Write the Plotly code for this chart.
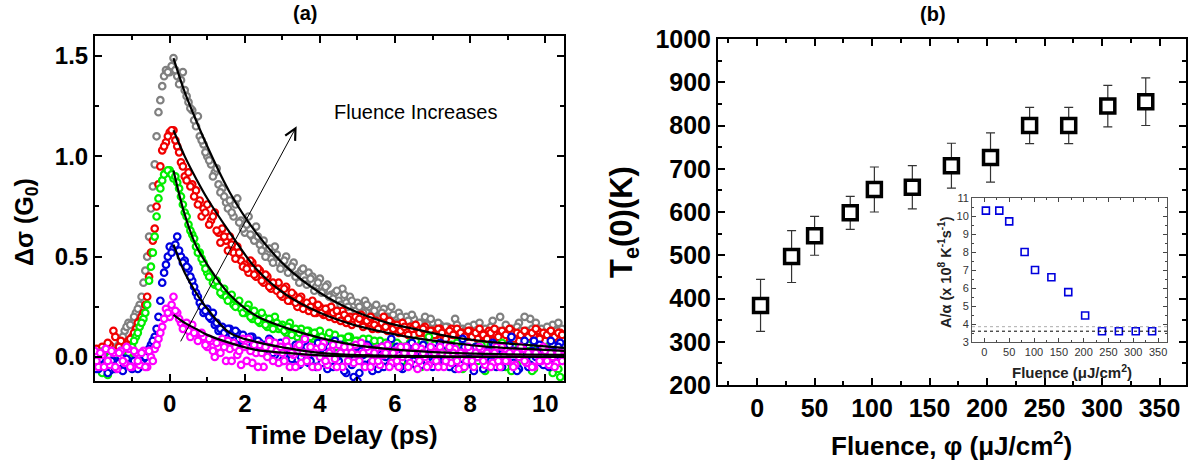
import plotly.graph_objects as go

# ---------------- DATA ----------------
# Panel (a): time delay (ps) grids and measured Δσ (G0) for five fluences
times = [
    -2.0, -1.9, -1.8, -1.7, -1.6, -1.5, -1.4, -1.3, -1.2, -1.1,
    -1.0, -0.9, -0.8, -0.7, -0.6, -0.5, -0.4, -0.3, -0.2, -0.1,
    0.0, 0.1, 0.2, 0.3, 0.4, 0.5, 0.6, 0.7, 0.8, 0.9,
    1.0, 1.1, 1.2, 1.3, 1.4, 1.5, 1.6, 1.7, 1.8, 1.9,
    2.0, 2.1, 2.2, 2.3, 2.4, 2.5, 2.6, 2.7, 2.8, 2.9,
    3.0, 3.1, 3.2, 3.3, 3.4, 3.5, 3.6, 3.7, 3.8, 3.9,
    4.0, 4.1, 4.2, 4.3, 4.4, 4.5, 4.6, 4.7, 4.8, 4.9,
    5.0, 5.1, 5.2, 5.3, 5.4, 5.5, 5.6, 5.7, 5.8, 5.9,
    6.0, 6.1, 6.2, 6.3, 6.4, 6.5, 6.6, 6.7, 6.8, 6.9,
    7.0, 7.1, 7.2, 7.3, 7.4, 7.5, 7.6, 7.7, 7.8, 7.9,
    8.0, 8.1, 8.2, 8.3, 8.4, 8.5, 8.6, 8.7, 8.8, 8.9,
    9.0, 9.1, 9.2, 9.3, 9.4, 9.5, 9.6, 9.7, 9.8, 9.9,
    10.0, 10.1, 10.2, 10.3, 10.4,
]
times_b = [
    -1.95, -1.85, -1.75, -1.65, -1.55, -1.45, -1.35, -1.25, -1.15, -1.05,
    -0.95, -0.85, -0.75, -0.65, -0.55, -0.45, -0.35, -0.25, -0.15, -0.05,
    0.05, 0.15, 0.25, 0.35, 0.45, 0.55, 0.65, 0.75, 0.85, 0.95,
    1.05, 1.15, 1.25, 1.35, 1.45, 1.55, 1.65, 1.75, 1.85, 1.95,
    2.05, 2.15, 2.25, 2.35, 2.45, 2.55, 2.65, 2.75, 2.85, 2.95,
    3.05, 3.15, 3.25, 3.35, 3.45, 3.55, 3.65, 3.75, 3.85, 3.95,
    4.05, 4.15, 4.25, 4.35, 4.45, 4.55, 4.65, 4.75, 4.85, 4.95,
    5.05, 5.15, 5.25, 5.35, 5.45, 5.55, 5.65, 5.75, 5.85, 5.95,
    6.05, 6.15, 6.25, 6.35, 6.45, 6.55, 6.65, 6.75, 6.85, 6.95,
    7.05, 7.15, 7.25, 7.35, 7.45, 7.55, 7.65, 7.75, 7.85, 7.95,
    8.05, 8.15, 8.25, 8.35, 8.45, 8.55, 8.65, 8.75, 8.85, 8.95,
    9.05, 9.15, 9.25, 9.35, 9.45, 9.55, 9.65, 9.75, 9.85, 9.95,
    10.05, 10.15, 10.25, 10.35, 10.45,
]

sig_gray = [
    0.03, 0.00, 0.04, 0.02, -0.02, 0.03, 0.05, 0.08, 0.13, 0.17,
    0.17, 0.22, 0.26, 0.37, 0.50, 0.74, 0.96, 1.22, 1.35, 1.43,
    1.42, 1.49, 1.40, 1.38, 1.33, 1.27, 1.23, 1.15, 1.10, 1.06,
    1.00, 0.96, 0.92, 0.86, 0.84, 0.77, 0.78, 0.70, 0.79, 0.68,
    0.62, 0.70, 0.60, 0.65, 0.56, 0.58, 0.52, 0.49, 0.55, 0.47,
    0.46, 0.50, 0.44, 0.47, 0.41, 0.43, 0.38, 0.42, 0.40, 0.35,
    0.39, 0.33, 0.36, 0.31, 0.32, 0.28, 0.34, 0.27, 0.30, 0.26,
    0.27, 0.24, 0.28, 0.25, 0.22, 0.26, 0.21, 0.24, 0.20, 0.25,
    0.19, 0.22, 0.18, 0.20, 0.16, 0.19, 0.15, 0.17, 0.20, 0.14,
    0.17, 0.13, 0.16, 0.12, 0.15, 0.13, 0.19, 0.12, 0.14, 0.11,
    0.13, 0.16, 0.12, 0.10, 0.14, 0.12, 0.18, 0.11, 0.20, 0.13,
    0.10, 0.14, 0.12, 0.17, 0.11, 0.13, 0.19, 0.12, 0.10, 0.14,
    0.12, 0.11, 0.16, 0.13, 0.12,
]
sig_gray_b = [
    0.01, 0.04, -0.01, 0.03, 0.05, 0.01, 0.06, 0.10, 0.15, 0.16,
    0.20, 0.24, 0.30, 0.43, 0.60, 0.85, 1.10, 1.28, 1.40, 1.42,
    1.45, 1.43, 1.36, 1.42, 1.30, 1.24, 1.18, 1.20, 1.08, 1.02,
    0.98, 0.90, 0.94, 0.82, 0.80, 0.74, 0.72, 0.76, 0.67, 0.64,
    0.66, 0.61, 0.58, 0.60, 0.53, 0.50, 0.54, 0.47, 0.51, 0.44,
    0.48, 0.42, 0.45, 0.40, 0.37, 0.44, 0.36, 0.39, 0.33, 0.37,
    0.32, 0.35, 0.30, 0.29, 0.33, 0.26, 0.31, 0.25, 0.28, 0.23,
    0.25, 0.22, 0.26, 0.20, 0.23, 0.19, 0.22, 0.20, 0.17, 0.21,
    0.17, 0.20, 0.15, 0.18, 0.21, 0.14, 0.17, 0.13, 0.16, 0.19,
    0.14, 0.17, 0.12, 0.15, 0.11, 0.13, 0.16, 0.10, 0.13, 0.15,
    0.11, 0.13, 0.17, 0.10, 0.12, 0.15, 0.10, 0.13, 0.11, 0.16,
    0.12, 0.10, 0.15, 0.13, 0.20, 0.11, 0.14, 0.17, 0.12, 0.10,
    0.15, 0.13, 0.10, 0.17, 0.14,
]

sig_red = [
    0.02, -0.03, 0.05, 0.00, 0.06, 0.13, 0.03, 0.08, 0.04, 0.08,
    0.10, 0.14, 0.18, 0.22, 0.30, 0.52, 0.64, 0.86, 1.03, 1.07,
    1.12, 1.13, 1.05, 0.97, 0.90, 0.92, 0.86, 0.83, 0.78, 0.74,
    0.76, 0.68, 0.72, 0.62, 0.64, 0.58, 0.60, 0.52, 0.55, 0.48,
    0.46, 0.42, 0.47, 0.40, 0.43, 0.37, 0.40, 0.34, 0.36, 0.37,
    0.30, 0.35, 0.28, 0.31, 0.25, 0.30, 0.26, 0.23, 0.28, 0.22,
    0.25, 0.21, 0.24, 0.25, 0.19, 0.20, 0.23, 0.17, 0.20, 0.18,
    0.17, 0.21, 0.16, 0.17, 0.14, 0.18, 0.15, 0.20, 0.13, 0.17,
    0.14, 0.12, 0.17, 0.13, 0.15, 0.11, 0.14, 0.12, 0.15, 0.10,
    0.13, 0.11, 0.14, 0.10, 0.12, 0.14, 0.11, 0.09, 0.12, 0.10,
    0.13, 0.11, 0.09, 0.12, 0.10, 0.13, 0.08, 0.11, 0.12, 0.09,
    0.11, 0.13, 0.10, 0.08, 0.11, 0.12, 0.09, 0.11, 0.13, 0.10,
    0.08, 0.12, 0.11, 0.09, 0.12,
]
sig_red_b = [
    0.04, 0.01, -0.02, 0.07, 0.03, 0.10, 0.05, 0.02, 0.06, 0.09,
    0.12, 0.17, 0.20, 0.26, 0.40, 0.58, 0.75, 0.95, 1.05, 1.10,
    1.13, 1.08, 1.02, 0.95, 0.88, 0.85, 0.80, 0.76, 0.70, 0.72,
    0.66, 0.70, 0.63, 0.57, 0.60, 0.53, 0.56, 0.49, 0.52, 0.45,
    0.44, 0.48, 0.41, 0.44, 0.38, 0.41, 0.35, 0.37, 0.33, 0.31,
    0.34, 0.28, 0.32, 0.27, 0.29, 0.24, 0.27, 0.25, 0.22, 0.26,
    0.22, 0.24, 0.20, 0.22, 0.23, 0.18, 0.21, 0.19, 0.16, 0.20,
    0.19, 0.15, 0.18, 0.20, 0.16, 0.14, 0.17, 0.15, 0.18, 0.14,
    0.16, 0.13, 0.15, 0.11, 0.14, 0.16, 0.12, 0.14, 0.11, 0.13,
    0.11, 0.14, 0.12, 0.09, 0.13, 0.11, 0.14, 0.12, 0.10, 0.13,
    0.10, 0.12, 0.14, 0.11, 0.09, 0.12, 0.14, 0.10, 0.13, 0.11,
    0.14, 0.09, 0.12, 0.11, 0.13, 0.10, 0.12, 0.14, 0.09, 0.12,
    0.11, 0.13, 0.10, 0.12, 0.11,
]

sig_green = [
    -0.05, 0.02, -0.08, -0.03, 0.00, -0.06, -0.02, 0.03, -0.04, 0.02,
    0.05, 0.10, 0.15, 0.19, 0.26, 0.45, 0.60, 0.79, 0.88, 0.92,
    0.93, 0.89, 0.87, 0.80, 0.72, 0.66, 0.61, 0.55, 0.52, 0.47,
    0.42, 0.40, 0.36, 0.35, 0.31, 0.30, 0.29, 0.26, 0.27, 0.24,
    0.22, 0.26, 0.19, 0.21, 0.17, 0.20, 0.15, 0.18, 0.20, 0.14,
    0.16, 0.12, 0.17, 0.13, 0.10, 0.14, 0.11, 0.13, 0.09, 0.12,
    0.13, 0.08, 0.10, 0.07, 0.11, 0.07, 0.09, 0.05, 0.10, 0.06,
    0.08, 0.04, 0.07, 0.09, 0.03, 0.06, 0.08, 0.02, 0.07, 0.05,
    0.03, 0.06, -0.02, 0.05, 0.07, 0.02, 0.04, -0.05, 0.06, 0.10,
    0.03, 0.01, 0.05, -0.03, 0.04, 0.06, 0.00, 0.03, -0.06, 0.05,
    0.02, 0.04, -0.02, 0.06, -0.07, 0.03, 0.01, 0.05, -0.04, 0.02,
    0.04, -0.07, 0.03, 0.00, 0.05, -0.02, 0.02, -0.06, 0.04, 0.01,
    -0.03, 0.03, -0.08, 0.02, -0.10,
]
sig_green_b = [
    0.00, -0.05, 0.03, -0.09, -0.02, 0.01, -0.05, 0.00, 0.04, -0.01,
    0.08, 0.12, 0.17, 0.22, 0.38, 0.52, 0.70, 0.84, 0.91, 0.93,
    0.91, 0.90, 0.84, 0.76, 0.70, 0.63, 0.59, 0.52, 0.49, 0.44,
    0.40, 0.37, 0.38, 0.32, 0.34, 0.28, 0.31, 0.25, 0.28, 0.22,
    0.24, 0.20, 0.23, 0.18, 0.22, 0.16, 0.19, 0.14, 0.17, 0.15,
    0.13, 0.15, 0.11, 0.14, 0.12, 0.09, 0.13, 0.10, 0.12, 0.08,
    0.10, 0.06, 0.12, 0.08, 0.05, 0.09, 0.06, 0.10, 0.04, 0.08,
    0.05, 0.09, 0.03, 0.06, 0.08, 0.02, 0.05, 0.07, 0.01, 0.04,
    0.07, 0.02, 0.05, -0.03, 0.04, 0.08, 0.01, 0.05, -0.02, 0.03,
    0.06, -0.04, 0.02, 0.05, -0.01, 0.03, 0.07, -0.05, 0.02, 0.04,
    -0.02, 0.05, 0.01, -0.06, 0.03, 0.06, -0.03, 0.02, 0.07, -0.05,
    0.02, 0.05, -0.04, 0.03, 0.00, 0.06, -0.07, 0.02, 0.04, -0.03,
    0.05, -0.02, 0.02, -0.06, 0.03,
]

sig_blue = [
    -0.03, -0.06, 0.01, -0.04, -0.07, -0.02, -0.05, 0.00, -0.04, -0.02,
    -0.06, -0.03, -0.05, -0.01, 0.02, 0.06, 0.10, 0.20, 0.37, 0.46,
    0.55, 0.54, 0.60, 0.50, 0.48, 0.44, 0.38, 0.32, 0.27, 0.22,
    0.24, 0.19, 0.16, 0.13, 0.15, 0.11, 0.14, 0.10, 0.12, 0.08,
    0.09, 0.06, 0.10, 0.04, 0.07, 0.02, 0.05, 0.08, 0.01, 0.04,
    -0.02, 0.06, 0.02, -0.04, 0.05, 0.00, 0.07, -0.03, 0.02, -0.05,
    0.04, 0.01, -0.06, 0.03, 0.08, -0.02, 0.02, -0.08, 0.01, -0.10,
    -0.12, 0.03, -0.04, 0.05, -0.07, 0.00, 0.04, -0.05, 0.02, 0.09,
    -0.03, 0.01, -0.06, 0.03, 0.06, -0.02, 0.02, -0.04, 0.04, 0.00,
    -0.05, 0.03, 0.07, -0.02, 0.01, 0.05, -0.06, 0.02, 0.09, -0.03,
    0.03, -0.07, 0.00, 0.04, -0.04, 0.02, 0.07, -0.05, 0.01, 0.04,
    -0.02, 0.10, 0.03, -0.06, 0.05, 0.00, -0.04, 0.08, 0.02, -0.03,
    0.04, -0.05, 0.06, 0.01, 0.07,
]
sig_blue_b = [
    -0.06, -0.01, -0.05, -0.08, -0.02, -0.06, -0.03, -0.07, -0.01, -0.05,
    -0.02, -0.06, -0.03, 0.00, 0.04, 0.08, 0.14, 0.28, 0.42, 0.50,
    0.52, 0.56, 0.53, 0.47, 0.45, 0.40, 0.35, 0.30, 0.25, 0.23,
    0.20, 0.22, 0.17, 0.14, 0.12, 0.14, 0.11, 0.13, 0.09, 0.11,
    0.07, 0.10, 0.05, 0.08, 0.03, 0.06, 0.09, 0.02, 0.05, 0.07,
    0.01, 0.04, -0.01, 0.06, -0.04, 0.03, 0.05, -0.02, 0.04, 0.07,
    -0.03, 0.02, 0.05, -0.05, 0.00, 0.06, -0.07, 0.03, -0.04, 0.02,
    -0.08, 0.01, 0.06, -0.03, 0.02, -0.06, 0.05, 0.00, -0.04, 0.03,
    0.05, -0.05, 0.02, -0.01, 0.07, -0.04, 0.03, 0.06, -0.02, 0.02,
    0.04, -0.03, 0.01, 0.06, -0.05, 0.03, 0.00, -0.04, 0.05, 0.02,
    -0.04, 0.05, 0.02, -0.06, 0.03, -0.02, 0.06, 0.01, -0.05, 0.03,
    0.06, -0.03, -0.07, 0.02, 0.08, -0.05, 0.03, 0.00, 0.06, -0.04,
    0.02, 0.08, -0.03, 0.05, 0.03,
]

sig_magenta = [
    0.03, -0.05, 0.01, 0.04, -0.04, 0.02, -0.06, 0.03, -0.03, 0.04,
    -0.05, 0.02, -0.04, 0.03, -0.05, 0.00, 0.04, 0.09, 0.15, 0.24,
    0.20, 0.30, 0.22, 0.17, 0.15, 0.13, 0.16, 0.12, 0.09, 0.10,
    0.05, 0.08, 0.00, 0.05, 0.09, -0.02, 0.04, 0.07, 0.01, -0.04,
    0.05, 0.09, -0.03, 0.02, 0.06, -0.05, 0.00, 0.04, 0.07, -0.03,
    0.02, 0.08, -0.05, 0.01, 0.05, -0.03, 0.09, 0.02, -0.05, 0.04,
    0.00, 0.07, -0.04, 0.03, -0.01, 0.06, -0.05, 0.02, 0.05, -0.03,
    0.01, 0.07, -0.05, 0.03, -0.02, 0.04, -0.04, 0.01, 0.06, -0.03,
    0.03, -0.05, 0.00, 0.05, -0.03, 0.02, -0.06, 0.04, 0.00, -0.04,
    0.03, -0.02, 0.05, -0.05, 0.01, -0.03, 0.04, -0.06, 0.02, -0.02,
    0.03, -0.05, 0.00, 0.04, -0.04, 0.02, -0.03, 0.05, -0.05, 0.01,
    -0.02, 0.03, -0.04, 0.00, 0.04, -0.03, 0.02, -0.05, 0.01, -0.02,
    0.03, -0.04, 0.00, -0.03, 0.02,
]
sig_magenta_b = [
    -0.02, 0.02, -0.05, -0.02, 0.03, -0.05, 0.02, -0.02, 0.05, -0.05,
    0.03, -0.02, 0.02, -0.05, 0.03, -0.02, 0.06, 0.12, 0.19, 0.22,
    0.26, 0.23, 0.19, 0.14, 0.17, 0.10, 0.12, 0.08, 0.12, 0.06,
    0.09, 0.03, 0.07, 0.02, 0.05, 0.08, -0.02, 0.05, 0.03, 0.09,
    -0.02, 0.03, 0.06, -0.05, 0.02, 0.05, 0.08, -0.02, 0.03, 0.05,
    -0.02, 0.05, 0.02, -0.05, 0.06, 0.02, -0.02, 0.05, 0.02, -0.05,
    0.05, -0.02, 0.02, 0.06, -0.05, 0.02, 0.05, -0.02, 0.02, 0.06,
    -0.02, 0.02, 0.05, -0.05, 0.02, -0.02, 0.05, 0.02, -0.05, 0.02,
    -0.02, 0.05, 0.02, -0.05, 0.02, 0.05, -0.02, 0.02, -0.05, 0.05,
    0.02, -0.05, 0.02, -0.02, 0.05, 0.02, -0.02, 0.02, -0.05, 0.05,
    -0.02, 0.02, 0.05, -0.02, 0.02, -0.05, 0.02, -0.02, 0.05, -0.02,
    0.02, -0.05, 0.02, 0.05, -0.02, 0.02, -0.05, 0.02, -0.02, 0.05,
    -0.02, 0.02, -0.05, 0.02, -0.02,
]

# Fitted decay curves
fit_times = [0.1, 0.4, 0.7, 1.0, 1.6, 2.3, 3.1, 4.0, 4.9, 5.8, 6.5, 7.5, 8.5, 9.5, 10.5]
fit_gray = [1.49, 1.32, 1.18, 1.05, 0.82, 0.62, 0.45, 0.32, 0.23, 0.17, 0.14, 0.10, 0.075, 0.06, 0.045]
fit_red = [1.13, 1.00, 0.89, 0.79, 0.62, 0.44, 0.31, 0.22, 0.16, 0.12, 0.095, 0.07, 0.05, 0.04, 0.03]
fit_green = [0.93, 0.71, 0.555, 0.46, 0.31, 0.205, 0.145, 0.095, 0.06, 0.04, 0.03, 0.02, 0.015, 0.012, 0.01]
fit_blue = [0.56, 0.42, 0.32, 0.24, 0.12, 0.075, 0.045, 0.02, 0.01, 0.006, 0.004, 0.002, 0.001, 0.0, 0.0]
fit_magenta = [0.21, 0.17, 0.14, 0.11, 0.07, 0.035, 0.02, 0.008, 0.003, 0.001, 0.0, 0.0, 0.0, 0.0, 0.0]

# Panel (b): fluence (uJ/cm^2), Te(0) (K) and error bars
fluence = [3, 30, 50, 81, 102, 135, 169, 203, 237, 271, 305, 338]
te0 = [384, 497, 545, 598, 652, 657, 707, 726, 800, 800, 845, 855]
te0_err = [60, 60, 45, 38, 52, 50, 52, 57, 42, 42, 48, 55]

# Inset: A/alpha (x 1e8 K^-1 s^-1)
a_alpha = [10.3, 10.3, 9.7, 8.0, 7.0, 6.6, 5.77, 4.47, 3.6, 3.6, 3.6, 3.6]
a_alpha_level = 3.6
a_alpha_level2 = 3.85

for s in (sig_gray, sig_red, sig_green, sig_blue, sig_magenta):
    assert len(s) == len(times)
for s in (sig_gray_b, sig_red_b, sig_green_b, sig_blue_b, sig_magenta_b):
    assert len(s) == len(times_b)

# ---------------- FIGURE ----------------
W, H = 1189, 467
FONT = "Liberation Sans, Arial, sans-serif"


def px(x):
    return x / W


def py(y):
    return 1 - y / H


fig = go.Figure()

series = [
    (sig_gray, sig_gray_b, "#808080"),
    (sig_red, sig_red_b, "#f00000"),
    (sig_green, sig_green_b, "#00ee00"),
    (sig_blue, sig_blue_b, "#0000e0"),
    (sig_magenta, sig_magenta_b, "#ff00ff"),
]
for vals, vals_b, col in series:
    fig.add_trace(go.Scatter(
        x=times + times_b, y=vals + vals_b, mode="markers", xaxis="x", yaxis="y",
        marker=dict(symbol="circle", size=6.5, color="white",
                    line=dict(color=col, width=2.2)),
        showlegend=False, cliponaxis=True))

for fv in [fit_gray, fit_red, fit_green, fit_blue, fit_magenta]:
    fig.add_trace(go.Scatter(
        x=fit_times, y=fv, mode="lines", xaxis="x", yaxis="y",
        line=dict(color="black", width=2.2, shape="spline", smoothing=1.0),
        showlegend=False))

fig.add_trace(go.Scatter(
    x=fluence, y=te0, mode="markers", xaxis="x2", yaxis="y2",
    error_y=dict(type="data", array=te0_err, visible=True,
                 color="#333333", thickness=1.2, width=4.5),
    marker=dict(symbol="square", size=14, color="white",
                line=dict(color="black", width=3.5)),
    showlegend=False))

fig.add_trace(go.Scatter(
    x=fluence, y=a_alpha, mode="markers", xaxis="x3", yaxis="y3",
    marker=dict(symbol="square", size=7, color="white",
                line=dict(color="#0000dd", width=1.6)),
    showlegend=False))


def main_axis(size, **kw):
    d = dict(showline=True, linecolor="black", linewidth=2, mirror="allticks",
             ticks="inside", ticklen=7, tickwidth=2, tickcolor="black",
             showgrid=False, zeroline=False, automargin=False,
             tickfont=dict(family=FONT, size=size, color="black", weight="bold"))
    d.update(kw)
    return d


def inset_axis(**kw):
    d = dict(showline=True, linecolor="#555555", linewidth=1, mirror="allticks",
             ticks="inside", ticklen=4, tickwidth=1, tickcolor="#444444",
             showgrid=False, zeroline=False, automargin=False,
             tickfont=dict(family=FONT, size=11, color="#333333"))
    d.update(kw)
    return d


fig.update_layout(
    template="none",
    width=W, height=H,
    margin=dict(l=0, r=0, t=0, b=0, pad=0, autoexpand=False),
    paper_bgcolor="white", plot_bgcolor="white",
    xaxis=main_axis(24, domain=[px(95), px(564)], anchor="y", range=[-1.99, 10.5],
                    tick0=0, dtick=2,
                    minor=dict(ticks="inside", ticklen=4, tickwidth=2, tickcolor="black",
                               tick0=0, dtick=1, showgrid=False)),
    yaxis=main_axis(24, domain=[py(381), py(36)], anchor="x", range=[-0.12, 1.6],
                    tick0=0, dtick=0.5, tickformat=".1f",
                    minor=dict(ticks="inside", ticklen=4, tickwidth=2, tickcolor="black",
                               tick0=0, dtick=0.25, showgrid=False)),
    xaxis2=main_axis(25, domain=[px(718), px(1186)], anchor="y2", range=[-34, 373],
                     tick0=0, dtick=50,
                     minor=dict(ticks="inside", ticklen=4, tickwidth=2, tickcolor="black",
                                tick0=0, dtick=25, showgrid=False)),
    yaxis2=main_axis(25, domain=[py(385), py(39)], anchor="x2", range=[200, 1000],
                     tick0=0, dtick=100,
                     minor=dict(ticks="inside", ticklen=4, tickwidth=2, tickcolor="black",
                                tick0=0, dtick=50, showgrid=False)),
    xaxis3=inset_axis(domain=[px(972), px(1167)], anchor="y3", range=[-25, 368],
                      tick0=0, dtick=50,
                      minor=dict(ticks="inside", ticklen=2, tickwidth=1, tickcolor="#444444",
                                 tick0=0, dtick=25, showgrid=False)),
    yaxis3=inset_axis(domain=[py(342), py(198)], anchor="x3", range=[3, 11],
                      tick0=3, dtick=1,
                      minor=dict(ticks="inside", ticklen=2, tickwidth=1, tickcolor="#444444",
                                 tick0=3, dtick=0.5, showgrid=False)),
)

fig.add_shape(type="line", xref="x3 domain", yref="y3", x0=0, x1=1,
              y0=a_alpha_level2, y1=a_alpha_level2,
              line=dict(color="#aaaaaa", width=1, dash="dot"))
fig.add_shape(type="line", xref="x3 domain", yref="y3", x0=0, x1=1,
              y0=a_alpha_level, y1=a_alpha_level,
              line=dict(color="black", width=1, dash="dot"))


def label(xp, yp, text, size, angle=0, color="black"):
    return dict(x=px(xp), y=py(yp), xref="paper", yref="paper", showarrow=False,
                xanchor="center", yanchor="middle", textangle=angle, text=text,
                font=dict(family=FONT, size=size, color=color))


ann = []
# arrow + label in panel (a)
ann.append(dict(x=3.38, y=1.15, ax=0.27, ay=0.07, xref="x", yref="y", axref="x", ayref="y",
                showarrow=True, arrowhead=5, arrowsize=2.2, arrowwidth=1,
                arrowcolor="black", text=""))
ann.append(dict(x=6.55, y=1.22, xref="x", yref="y", showarrow=False,
                xanchor="center", yanchor="middle",
                text="Fluence Increases",
                font=dict(family=FONT, size=20, color="black")))
# panel titles
ann.append(label(305, 13, "<b>(a)</b>", 20))
ann.append(label(933, 14, "<b>(b)</b>", 20))
# axis titles
ann.append(label(342, 435, "<b>Time Delay (ps)</b>", 26))
ann.append(label(26, 222, "<b>Δσ (G<sub>0</sub>)</b>", 25, angle=-90))
ann.append(label(951, 444, "<b>Fluence, φ (μJ/cm<sup>2</sup>)</b>", 26))
ann.append(label(624, 222, "<b>T<sub>e</sub>(0)(K)</b>", 31, angle=-90))
# inset titles
ann.append(label(945, 272, "<b>A/α (x 10<sup>8</sup> K<sup>-1</sup>s<sup>-1</sup>)</b>", 14.5,
                 angle=-90, color="#222222"))
ann.append(label(1072, 371, "<b>Fluence (μJ/cm<sup>2</sup>)</b>", 15, color="#222222"))
fig.update_layout(annotations=ann)

fig.write_html("out.html")
